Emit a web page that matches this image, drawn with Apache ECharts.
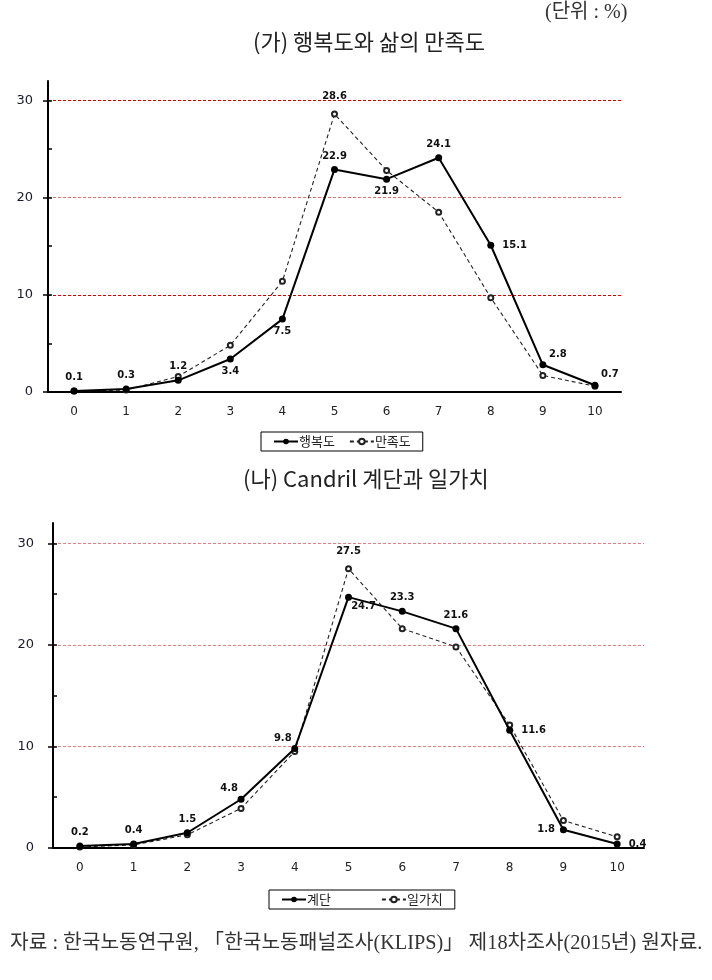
<!DOCTYPE html>
<html>
<head>
<meta charset="utf-8">
<script src="https://cdn.jsdelivr.net/npm/echarts@6/dist/echarts.min.js"></script>
<style>
  html, body { margin: 0; padding: 0; background: #fff; }
  #chart { width: 712px; height: 980px; }
</style>
</head>
<body>
<div id="chart"></div>
<script>
  // 점수 0~10
  const scores = ['0', '1', '2', '3', '4', '5', '6', '7', '8', '9', '10']
  const yTicks = [0, 10, 20, 30]

  // (가) 행복도와 삶의 만족도
  const happiness = [0.1, 0.3, 1.2, 3.4, 7.5, 22.9, 21.9, 24.1, 15.1, 2.8, 0.7]
  const satisfaction = [0.1, 0.2, 1.6, 4.8, 11.4, 28.6, 22.8, 18.5, 9.7, 1.7, 0.6]

  // (나) Candril 계단과 일가치
  const ladder = [0.2, 0.4, 1.5, 4.8, 9.8, 24.7, 23.3, 21.6, 11.6, 1.8, 0.4]
  const workValue = [0.1, 0.3, 1.3, 3.9, 9.5, 27.5, 21.6, 19.8, 12.1, 2.7, 1.1]

  // 라벨 위치 (t: 위, b: 아래, r: 오른쪽, l: 왼쪽, tr: 오른쪽 위, tl: 왼쪽 위, br: 오른쪽 아래)
  const happinessPos = ['t', 't', 't', 'b', 'b', 't', 'b', 't', 'r', 'tr', 'tr']
  const ladderPos = ['t', 't', 't', 'tl', 'tl', 'br', 't', 't', 'r', 'l', 'r']

  const labelFont = {fontFamily: 'DejaVu Sans', fontSize: 10, fontWeight: 'bold', color: '#111'}
  const posStyle = {
    t: {position: 'top', distance: 5},
    b: {position: 'bottom', distance: 4},
    r: {position: 'right', distance: 8},
    l: {position: 'left', distance: 5},
    tr: {position: 'top', distance: 2, offset: [15, 0]},
    tl: {position: 'top', distance: 2, offset: [-12, 0]},
    br: {position: 'bottom', distance: 1, offset: [15, 0]}
  }

  function labeled(values, codes) {
    return values.map((v, i) => ({
      value: v,
      label: Object.assign({show: true}, labelFont, posStyle[codes[i]])
    }))
  }

  // 점선 계열은 최고점에만 라벨
  function peakOnly(values) {
    const max = Math.max(...values)
    return values.map(v => v === max
      ? {value: v, label: Object.assign({show: true, position: 'top', distance: 9}, labelFont)}
      : v)
  }

  function xAxis(gridIndex) {
    return {
      type: 'category',
      gridIndex: gridIndex,
      data: scores,
      boundaryGap: true,
      axisLine: {lineStyle: {color: '#000', width: 2}},
      axisTick: {show: false},
      axisLabel: {color: '#222', fontFamily: 'DejaVu Sans', fontSize: 12, margin: 14},
      splitLine: {show: false}
    }
  }

  // 눈금선 색: 0, 10, 20, 30, 32(끝)
  function yAxis(gridIndex, margin, lineColors) {
    return {
      type: 'value',
      gridIndex: gridIndex,
      min: 0,
      max: 32,
      interval: 10,
      axisLine: {show: true, onZero: false, lineStyle: {color: '#000', width: 2}},
      axisTick: {show: true, length: 5, customValues: yTicks, lineStyle: {color: '#000', width: 1.5}},
      axisLabel: {customValues: yTicks, color: '#1a1a2a', fontFamily: 'DejaVu Sans', fontSize: 13, margin: margin},
      splitLine: {show: true, lineStyle: {color: lineColors, type: [3, 2], width: 1}}
    }
  }

  function minorAxis(gridIndex) {
    return {
      type: 'value',
      gridIndex: gridIndex,
      position: 'left',
      min: 0,
      max: 32,
      interval: 5,
      axisLine: {show: false},
      axisTick: {show: true, inside: true, length: 4, customValues: [0, 5, 10, 15, 20, 25, 30], lineStyle: {color: '#000', width: 1.5}},
      axisLabel: {show: false},
      splitLine: {show: false}
    }
  }

  const solidLine = {
    type: 'line',
    symbol: 'circle',
    symbolSize: 7,
    itemStyle: {color: '#000'},
    lineStyle: {color: '#000', width: 2},
    z: 3
  }
  const dashedLine = {
    type: 'line',
    symbol: 'emptyCircle',
    symbolSize: 5,
    itemStyle: {color: '#222', borderColor: '#222', borderWidth: 1},
    lineStyle: {color: '#222', width: 1.1, type: [4, 3]},
    z: 2
  }

  const legendBase = {
    borderColor: '#000',
    borderWidth: 1,
    padding: [3, 12, 3, 12],
    itemWidth: 24,
    itemHeight: 7,
    itemGap: 14,
    textStyle: {fontFamily: 'Noto Sans CJK KR', fontSize: 13, color: '#222', padding: [0, 0, 0, -4]}
  }

  const chart = echarts.init(document.getElementById('chart'))
  chart.setOption({
    backgroundColor: '#fff',
    animation: false,
    title: [
      {text: '(단위 : %)', left: 545, top: 3, padding: 0,
        textStyle: {fontFamily: 'Liberation Serif, Noto Sans CJK KR', fontSize: 20, fontWeight: 'normal', color: '#333'}},
      {text: '(가) 행복도와 삶의 만족도', left: 253, top: 31, padding: 0,
        textStyle: {fontFamily: 'Noto Sans CJK KR', fontSize: 22, fontWeight: 'normal', color: '#222'}},
      {text: '(나) Candril 계단과 일가치', left: 243, top: 468, padding: 0,
        textStyle: {fontFamily: 'Noto Sans CJK KR', fontSize: 22, fontWeight: 'normal', color: '#222'}},
      {text: '자료 : 한국노동연구원, 「한국노동패널조사(KLIPS)」 제18차조사(2015년) 원자료.', left: 10, top: 934, padding: 0,
        textStyle: {fontFamily: 'Liberation Serif, Noto Sans CJK KR', fontSize: 20.3, fontWeight: 'normal', color: '#333'}}
    ],
    legend: [
      Object.assign({data: ['행복도', '만족도'], left: 261, top: 432}, legendBase),
      Object.assign({data: ['계단', '일가치'], left: 269, top: 890}, legendBase, {itemGap: 50})
    ],
    grid: [
      {left: 48, right: 91, top: 81, height: 311},
      {left: 53, right: 68, top: 523, height: 325}
    ],
    xAxis: [xAxis(0), xAxis(1)],
    yAxis: [
      yAxis(0, 15, ['transparent', '#d00000', '#e07070', '#d00000', 'transparent']),
      minorAxis(0),
      yAxis(1, 19, ['transparent', '#e08080', '#e08080', '#e08080', 'transparent']),
      minorAxis(1)
    ],
    series: [
      Object.assign({name: '행복도', xAxisIndex: 0, yAxisIndex: 0, data: labeled(happiness, happinessPos)}, solidLine),
      Object.assign({name: '만족도', xAxisIndex: 0, yAxisIndex: 0, data: peakOnly(satisfaction)}, dashedLine),
      Object.assign({name: '계단', xAxisIndex: 1, yAxisIndex: 2, data: labeled(ladder, ladderPos)}, solidLine),
      Object.assign({name: '일가치', xAxisIndex: 1, yAxisIndex: 2, data: peakOnly(workValue)}, dashedLine)
    ]
  })
</script>
</body>
</html>
